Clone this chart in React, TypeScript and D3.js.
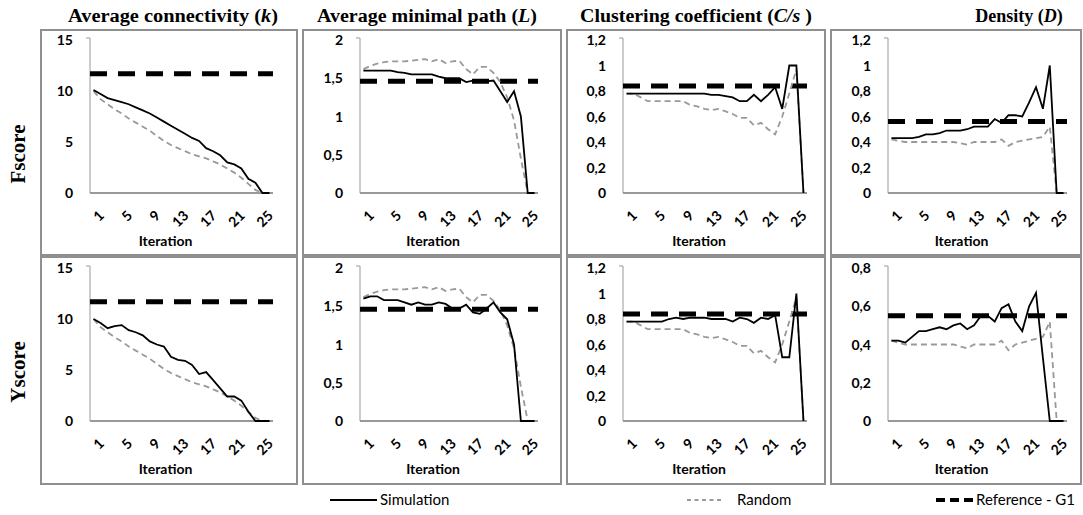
import React from 'react';
import * as d3 from 'd3';

// Iterations on the x axis, and the labels that are shown
const ITERATIONS = [1, 2, 3, 4, 5, 6, 7, 8, 9, 10, 11, 12, 13, 14, 15, 16, 17, 18, 19, 20, 21, 22, 23, 24, 25, 26];
const X_TICKS = [1, 5, 9, 13, 17, 21, 25];

// Y ticks for every metric
const K_TICKS = [0, 5, 10, 15];
const L_TICKS = [0, 0.5, 1, 1.5, 2];
const C_TICKS = [0, 0.2, 0.4, 0.6, 0.8, 1, 1.2];
const D_F_TICKS = [0, 0.2, 0.4, 0.6, 0.8, 1, 1.2];
const D_Y_TICKS = [0, 0.2, 0.4, 0.6, 0.8];

// Average connectivity (k)
const K_F_SIM = [10.1, 9.7, 9.3, 9.1, 8.9, 8.7, 8.4, 8.1, 7.8, 7.4, 7.0, 6.6, 6.2, 5.8, 5.4, 5.1, 4.4, 4.1, 3.7, 3.0, 2.8, 2.4, 1.4, 1.0, 0, 0];
const K_Y_SIM = [10.0, 9.6, 9.1, 9.3, 9.4, 8.9, 8.7, 8.4, 7.8, 7.5, 7.3, 6.3, 6.0, 5.9, 5.5, 4.6, 4.8, 4.0, 3.2, 2.4, 2.4, 2.0, 0.9, 0, 0, 0];
const K_RAND = [10.0, 9.2, 8.7, 8.2, 7.8, 7.3, 6.9, 6.5, 6.1, 5.6, 5.1, 4.7, 4.4, 4.1, 3.8, 3.6, 3.4, 3.1, 2.8, 2.4, 2.0, 1.5, 0.9, 0.3, 0, 0];

// Average minimal path (L)
const L_F_SIM = [1.6, 1.6, 1.6, 1.6, 1.6, 1.58, 1.57, 1.55, 1.55, 1.55, 1.55, 1.52, 1.5, 1.5, 1.5, 1.45, 1.47, 1.46, 1.46, 1.47, 1.33, 1.19, 1.33, 1.0, 0, 0];
const L_Y_SIM = [1.6, 1.63, 1.63, 1.58, 1.58, 1.58, 1.55, 1.52, 1.55, 1.52, 1.52, 1.55, 1.53, 1.47, 1.47, 1.52, 1.42, 1.4, 1.47, 1.55, 1.42, 1.33, 1.0, 0, 0, 0];
const L_RAND = [1.62, 1.66, 1.69, 1.71, 1.72, 1.72, 1.72, 1.73, 1.74, 1.75, 1.72, 1.75, 1.7, 1.72, 1.73, 1.62, 1.55, 1.65, 1.65, 1.57, 1.45, 1.25, 0.95, 0.45, 0, 0];

// Clustering coefficient (C/s)
const C_F_SIM = [0.78, 0.78, 0.78, 0.78, 0.78, 0.78, 0.78, 0.78, 0.78, 0.78, 0.78, 0.78, 0.77, 0.77, 0.76, 0.75, 0.72, 0.72, 0.77, 0.72, 0.77, 0.83, 0.66, 1.0, 1.0, 0];
const C_Y_SIM = [0.78, 0.78, 0.78, 0.78, 0.78, 0.78, 0.8, 0.81, 0.8, 0.81, 0.81, 0.81, 0.8, 0.8, 0.8, 0.78, 0.81, 0.8, 0.77, 0.81, 0.8, 0.83, 0.5, 0.5, 1.0, 0];
const C_RAND = [0.78, 0.78, 0.75, 0.72, 0.72, 0.72, 0.72, 0.72, 0.72, 0.69, 0.68, 0.66, 0.65, 0.66, 0.64, 0.62, 0.59, 0.59, 0.53, 0.55, 0.5, 0.46, 0.6, 0.78, 0.97, 0];

// Density (D)
const D_F_SIM = [0.43, 0.43, 0.43, 0.43, 0.44, 0.46, 0.46, 0.47, 0.49, 0.49, 0.49, 0.5, 0.52, 0.52, 0.52, 0.58, 0.55, 0.61, 0.61, 0.6, 0.71, 0.83, 0.66, 1.0, 0, 0];
const D_Y_SIM = [0.42, 0.42, 0.41, 0.44, 0.47, 0.47, 0.48, 0.49, 0.48, 0.5, 0.51, 0.48, 0.5, 0.55, 0.55, 0.52, 0.59, 0.61, 0.52, 0.47, 0.6, 0.67, 0.33, 0, 0, 0];
const D_RAND = [0.42, 0.41, 0.4, 0.4, 0.4, 0.4, 0.4, 0.4, 0.4, 0.4, 0.39, 0.38, 0.4, 0.4, 0.4, 0.4, 0.42, 0.37, 0.4, 0.41, 0.42, 0.43, 0.44, 0.52, 0, 0];

// Reference graph G1 values (k, L, C/s, D)
const REF_F = [11.7, 1.46, 0.84, 0.56];
const REF_Y = [11.7, 1.46, 0.84, 0.55];

const ROW_LABELS = ['Fscore', 'Yscore'];
const LEGEND_LABELS = ['Simulation', 'Random', 'Reference - G1'];

const SANS = 'Lato, "Open Sans", sans-serif';
const SERIF = '"Liberation Serif", "Times New Roman", serif';
const GRAY = '#999999';
const BORDER = '#8f8f8f';

// layout of the 4 x 2 grid of framed panels
const COLS = [
  { box: [41, 297], plot: [90, 273], titleX: 173, titleW: 210 },
  { box: [303, 561], plot: [360, 538], titleX: 427, titleW: 220 },
  { box: [567, 825], plot: [623, 807], titleX: 696, titleW: 232 },
  { box: [831, 1081], plot: [888, 1067], titleX: 1019, titleW: 0 }
];
const ROWS = [
  { box: [30, 255], plot: [40, 193], labelY: 154 },
  { box: [257, 484], plot: [268, 421], labelY: 372 }
];

const PANELS = [
  [
    { sim: K_F_SIM, rand: K_RAND, ref: REF_F[0], ticks: K_TICKS },
    { sim: L_F_SIM, rand: L_RAND, ref: REF_F[1], ticks: L_TICKS },
    { sim: C_F_SIM, rand: C_RAND, ref: REF_F[2], ticks: C_TICKS },
    { sim: D_F_SIM, rand: D_RAND, ref: REF_F[3], ticks: D_F_TICKS }
  ],
  [
    { sim: K_Y_SIM, rand: K_RAND, ref: REF_Y[0], ticks: K_TICKS },
    { sim: L_Y_SIM, rand: L_RAND, ref: REF_Y[1], ticks: L_TICKS },
    { sim: C_Y_SIM, rand: C_RAND, ref: REF_Y[2], ticks: C_TICKS },
    { sim: D_Y_SIM, rand: D_RAND, ref: REF_Y[3], ticks: D_Y_TICKS }
  ]
];

const fmt = d3.formatLocale({ decimal: ',', thousands: '.', grouping: [3], currency: ['', ''] }).format('~g');

const TITLES = [
  ['Average connectivity (', 'k', ')'],
  ['Average minimal path (', 'L', ')'],
  ['Clustering coefficient (', 'C/s', ' )'],
  ['Density (', 'D', ')']
];

function Panel({ row, col, data }: any) {
  const R = ROWS[row];
  const C = COLS[col];
  const x = d3.scalePoint<number>().domain(ITERATIONS).range(C.plot as [number, number]).padding(0.5);
  const y = d3.scaleLinear().domain([0, d3.max(data.ticks as number[]) as number]).range([R.plot[1], R.plot[0]]);
  const line = d3.line<number>().x((_, i) => x(ITERATIONS[i]) as number).y(d => y(d));
  const [x0, x1] = C.plot;

  return (
    <g>
      <rect x={C.box[0]} y={R.box[0]} width={C.box[1] - C.box[0]} height={R.box[1] - R.box[0]}
        fill='none' stroke={BORDER} strokeWidth={2} />
      {/* axes */}
      <line x1={x0} x2={x0} y1={y.range()[1] - 2} y2={y.range()[0]} stroke={GRAY} strokeWidth={1} />
      <line x1={x0 - 4} x2={x0} y1={y.range()[1] - 2} y2={y.range()[1] - 2} stroke={GRAY} strokeWidth={1} />
      <line x1={x0} x2={x1} y1={y(0)} y2={y(0)} stroke={GRAY} strokeWidth={2} />
      {data.ticks.map((t: number) => (
        <text key={t} x={x0 - 17} y={y(t)} dy='0.36em' textAnchor='end'
          fontFamily={SANS} fontWeight='bold' fontSize={14}>{fmt(t)}</text>
      ))}
      {X_TICKS.map(t => (
        <text key={t} transform={`translate(${(x(t) as number) + 8},${y(0) + 20}) rotate(-45)`}
          dy='0.35em' textAnchor='end' fontFamily={SANS} fontWeight='bold' fontSize={14}>{t}</text>
      ))}
      <text x={(x0 + x1) / 2 - 16} y={y(0) + 53} textAnchor='middle'
        fontFamily={SANS} fontWeight='bold' fontSize={14}>Iteration</text>
      {/* series */}
      <line x1={x0} x2={x1} y1={y(data.ref)} y2={y(data.ref)} stroke='#000' strokeWidth={5}
        strokeDasharray='17,11' />
      <path d={line(data.rand) as string} fill='none' stroke={GRAY} strokeWidth={1.8} strokeDasharray='6,4' />
      <path d={line(data.sim) as string} fill='none' stroke='#000' strokeWidth={1.8} />
    </g>
  );
}

export default function App() {
  return (
    <svg width={1083} height={515} style={{ position: 'absolute', left: 0, top: 0, background: '#fff' }}>
      {TITLES.map((t, c) => (
        <text key={c} x={COLS[c].titleX} y={22} textAnchor='middle' fontFamily={SERIF}
          fontWeight='bold' fontSize={18}
          textLength={COLS[c].titleW || undefined} lengthAdjust='spacingAndGlyphs'>
          {t[0]}<tspan fontStyle='italic'>{t[1]}</tspan>{t[2]}
        </text>
      ))}
      {ROW_LABELS.map((l, r) => (
        <text key={l} transform={`translate(25,${ROWS[r].labelY}) rotate(-90)`} textAnchor='middle'
          fontFamily={SERIF} fontWeight='bold' fontSize={21}>{l}</text>
      ))}
      {PANELS.map((row, r) => row.map((p, c) => <Panel key={r + '-' + c} row={r} col={c} data={p} />))}

      {/* legend */}
      <g fontFamily={SANS} fontSize={15}>
        <line x1={330} x2={377} y1={500} y2={500} stroke='#000' strokeWidth={1.8} />
        <text x={380} y={505}>{LEGEND_LABELS[0]}</text>
        <line x1={687} x2={724} y1={500} y2={500} stroke={GRAY} strokeWidth={1.8} strokeDasharray='4,3.5' />
        <text x={737} y={505}>{LEGEND_LABELS[1]}</text>
        <line x1={936} x2={973} y1={500} y2={500} stroke='#000' strokeWidth={4} strokeDasharray='9,5' />
        <text x={976} y={505}>{LEGEND_LABELS[2]}</text>
      </g>
    </svg>
  );
}
